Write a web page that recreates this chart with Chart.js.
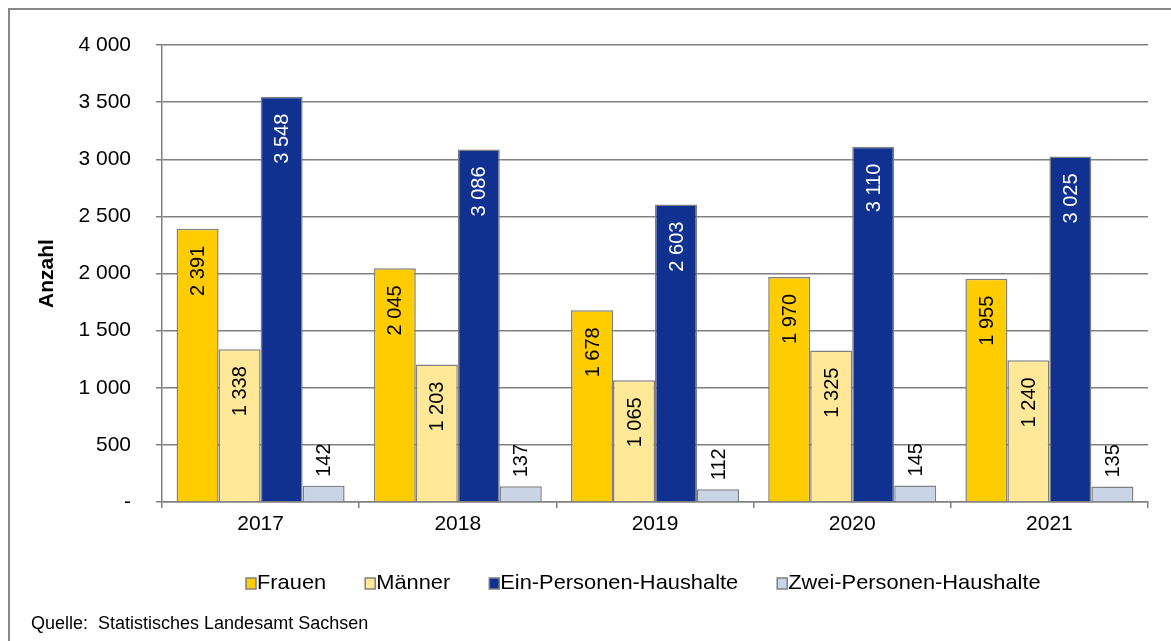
<!DOCTYPE html>
<html>
<head>
<meta charset="utf-8">
<script src="https://cdn.jsdelivr.net/npm/chart.js@4.4.1/dist/chart.umd.min.js"></script>
<style>
  html, body { margin: 0; padding: 0; background: #fff; }
  #wrap { width: 1171px; height: 641px; position: relative; }
</style>
</head>
<body>
<div id="wrap"><canvas id="chart" width="1171" height="641"></canvas></div>
<script>
// Data
const years = ['2017', '2018', '2019', '2020', '2021'];
const frauen = [2391, 2045, 1678, 1970, 1955];
const maenner = [1338, 1203, 1065, 1325, 1240];
const einPersonen = [3548, 3086, 2603, 3110, 3025];
const zweiPersonen = [142, 137, 112, 145, 135];

const FONT = '"Liberation Sans", Arial, sans-serif';
const GRID = '#808080';

const fmt = (v) => String(v).replace(/\B(?=(\d{3})+(?!\d))/g, ' ');

// frame around the whole graphic (only top/left edges are visible)
const framePlugin = {
  id: 'frame',
  beforeDraw(chart) {
    const ctx = chart.ctx;
    ctx.save();
    ctx.fillStyle = '#fff';
    ctx.fillRect(0, 0, chart.width, chart.height);
    ctx.strokeStyle = '#888';
    ctx.lineWidth = 2;
    ctx.strokeRect(9, 9, chart.width + 50, chart.height + 50);
    ctx.restore();
  }
};

// rotated value labels: inside top for the first three series, above the bar for the last
const valueLabels = {
  id: 'valueLabels',
  afterDatasetsDraw(chart) {
    const ctx = chart.ctx;
    ctx.save();
    ctx.font = '20px ' + FONT;
    ctx.textBaseline = 'middle';
    chart.data.datasets.forEach((ds, i) => {
      const meta = chart.getDatasetMeta(i);
      meta.data.forEach((bar, j) => {
        const txt = fmt(ds.data[j]);
        ctx.save();
        if (ds.labelOutside) {
          ctx.translate(bar.x, bar.y - 9);
          ctx.rotate(-Math.PI / 2);
          ctx.textAlign = 'left';
        } else {
          ctx.translate(bar.x, bar.y + 17);
          ctx.rotate(-Math.PI / 2);
          ctx.textAlign = 'right';
        }
        ctx.fillStyle = ds.labelColor;
        ctx.fillText(txt, 0, 1);
        ctx.restore();
      });
    });
    ctx.restore();
  }
};

// legend and source note, drawn below the plot (legend text is a bit stretched in the original)
const legendPlugin = {
  id: 'customLegend',
  afterDraw(chart) {
    const ctx = chart.ctx;
    const stretch = 1.04;
    ctx.save();
    ctx.font = '21px ' + FONT;
    ctx.textBaseline = 'middle';
    ctx.textAlign = 'left';
    let x = 246;
    const y = 583;
    chart.data.datasets.forEach((ds) => {
      ctx.fillStyle = ds.backgroundColor;
      ctx.fillRect(x, y - 5, 10, 11);
      ctx.strokeStyle = GRID;
      ctx.lineWidth = 1.5;
      ctx.strokeRect(x, y - 5, 10, 11);
      ctx.fillStyle = '#000';
      const tx = x + 11;
      ctx.save();
      ctx.translate(tx, y);
      ctx.scale(stretch, 1);
      ctx.fillText(ds.label, 0, 0);
      ctx.restore();
      x = tx + ctx.measureText(ds.label).width * stretch + 39;
    });
    ctx.font = '18px ' + FONT;
    ctx.fillText('Quelle:  Statistisches Landesamt Sachsen', 31, 624);
    ctx.restore();
  }
};

const makeSet = (label, data, color, labelColor, outside) => ({
  label, data,
  backgroundColor: color,
  borderColor: GRID,
  borderWidth: 1.5,
  labelColor,
  labelOutside: outside,
});

new Chart(document.getElementById('chart'), {
  type: 'bar',
  data: {
    labels: years,
    datasets: [
      makeSet('Frauen', frauen, '#FFCC00', '#000', false),
      makeSet('Männer', maenner, '#FFE999', '#000', false),
      makeSet('Ein-Personen-Haushalte', einPersonen, '#10318F', '#fff', false),
      makeSet('Zwei-Personen-Haushalte', zweiPersonen, '#C9D4E7', '#000', true),
    ]
  },
  options: {
    responsive: false,
    animation: false,
    datasets: { bar: { categoryPercentage: 0.852, barPercentage: 1 } },
    layout: { padding: { left: 0, right: 23, top: 45, bottom: 99 } },
    plugins: {
      legend: { display: false },
      tooltip: { enabled: false },
    },
    scales: {
      x: {
        grid: { drawOnChartArea: false, drawTicks: true, tickLength: 6, color: GRID, lineWidth: 1.5 },
        border: { color: GRID, width: 1.5 },
        ticks: { color: '#000', font: { family: FONT, size: 21 }, padding: 4, maxRotation: 0 },
        afterFit: (s) => { s.height = 40; },
      },
      y: {
        min: 0,
        max: 4000,
        ticks: {
          stepSize: 500,
          color: '#000',
          font: { family: FONT, size: 21 },
          padding: 25,
          callback: (v) => (v === 0 ? '-' : fmt(v)),
        },
        grid: { color: GRID, lineWidth: 1.5, tickLength: 6 },
        border: { color: GRID, width: 1.5 },
        title: {
          display: true,
          text: 'Anzahl',
          color: '#000',
          font: { family: FONT, size: 21, weight: 'bold' },
          padding: { top: 35, bottom: 0 },
        },
        afterFit: (s) => { s.width = 162; },
      }
    }
  },
  plugins: [framePlugin, valueLabels, legendPlugin],
});
</script>
</body>
</html>
